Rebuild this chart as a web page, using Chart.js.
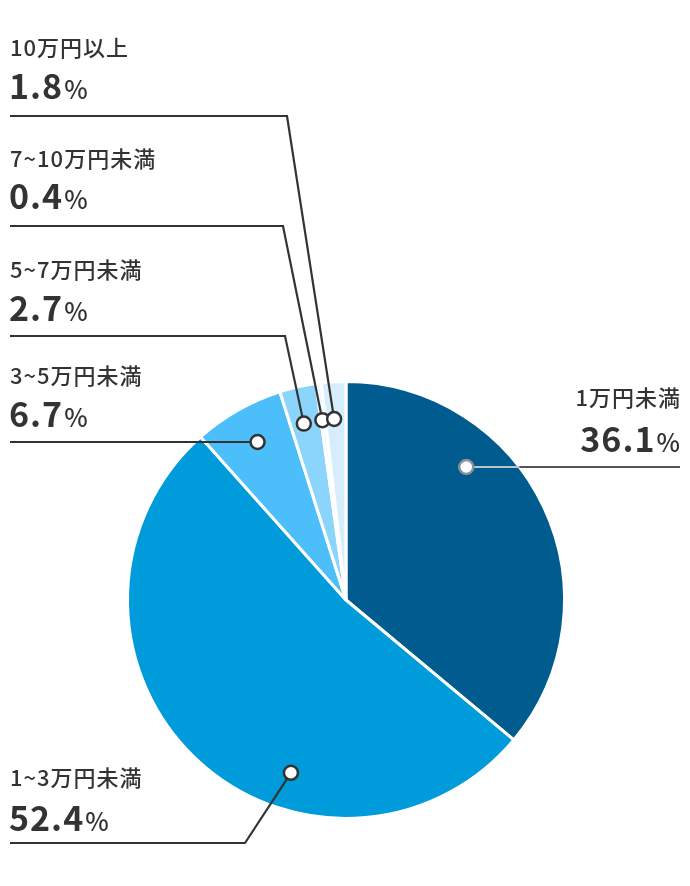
<!DOCTYPE html>
<html lang="ja">
<head>
  <meta charset="UTF-8" />
  <title>Pie</title>
  <script src="https://cdn.jsdelivr.net/npm/chart.js"></script>
  <style>
    body { margin: 0; background: #fff; }
    #wrap { width: 690px; height: 886px; position: relative; }
  </style>
</head>
<body>
  <div id="wrap"><canvas id="pie" width="690" height="886"></canvas></div>

  <script>
    const categories = ['1万円未満', '1~3万円未満', '3~5万円未満', '5~7万円未満', '7~10万円未満', '10万円以上'];
    const shares = [36.1, 52.4, 6.7, 2.7, 0.4, 1.8];
    const sliceColors = ['#005b8e', '#009bdb', '#4cbffa', '#8bd5fd', '#eef8ff', '#d6edfc'];

    // where each label sits (layout only)
    const labelLayout = [
      { side: 'right', catY: 406, valY: 452, lineY: 467, bendX: null, dotAt: 0.32 },
      { side: 'left', catY: 786, valY: 831, lineY: 843, bendX: 245, dotAt: 0.36 },
      { side: 'left', catY: 384, valY: 427, lineY: 442, bendX: null, dotAt: 0.52 },
      { side: 'left', catY: 278, valY: 321, lineY: 336, bendX: 285, dotAt: 0.43 },
      { side: 'left', catY: 167, valY: 209, lineY: 226, bendX: 283, dotAt: 0.3 },
      { side: 'left', catY: 56, valY: 99, lineY: 116, bendX: 287, dotAt: 0.42 }
    ];

    const CAT_FONT = '500 22px "Noto Sans CJK JP"';
    const VAL_FONT = '700 34px "Noto Sans CJK JP"';
    const PCT_FONT = '500 25px "Noto Sans CJK JP"';

    const leaderLabels = {
      id: 'leaderLabels',
      afterDraw(chart) {
        const ctx = chart.ctx;
        const arcs = chart.getDatasetMeta(0).data;
        ctx.save();
        arcs.forEach((arc, i) => {
          const lay = labelLayout[i];
          const ang = arc.startAngle + (arc.endAngle - arc.startAngle) * lay.dotAt;
          const r = arc.outerRadius * 0.83;
          const dx = arc.x + Math.cos(ang) * r;
          const dy = arc.y + Math.sin(ang) * r;

          ctx.lineWidth = 2.2;
          ctx.lineCap = 'butt';
          if (lay.side === 'right') {
            const edgeX = arc.x + Math.sqrt(Math.max(arc.outerRadius ** 2 - (lay.lineY - arc.y) ** 2, 0));
            ctx.strokeStyle = '#b9c3c9';
            ctx.beginPath();
            ctx.moveTo(dx, lay.lineY);
            ctx.lineTo(edgeX, lay.lineY);
            ctx.stroke();
            ctx.strokeStyle = '#555';
            ctx.beginPath();
            ctx.moveTo(edgeX, lay.lineY);
            ctx.lineTo(680, lay.lineY);
            ctx.stroke();
          } else {
            ctx.strokeStyle = '#333';
            ctx.beginPath();
            ctx.moveTo(10, lay.lineY);
            if (lay.bendX !== null) {
              ctx.lineTo(lay.bendX, lay.lineY);
              ctx.lineTo(dx, dy);
            } else {
              ctx.lineTo(dx, lay.lineY);
            }
            ctx.stroke();
          }

          // dot
          ctx.beginPath();
          ctx.arc(dx, lay.side === 'right' || lay.bendX === null ? lay.lineY : dy, 7, 0, Math.PI * 2);
          ctx.fillStyle = '#fff';
          ctx.fill();
          ctx.lineWidth = 2.5;
          ctx.strokeStyle = lay.side === 'right' ? '#8a9299' : '#333';
          ctx.stroke();

          // texts
          ctx.fillStyle = '#333';
          ctx.textBaseline = 'alphabetic';
          const valTxt = shares[i].toFixed(1);
          ctx.letterSpacing = '1px';
          ctx.font = VAL_FONT;
          const valW = ctx.measureText(valTxt).width;
          ctx.letterSpacing = '0px';
          ctx.font = PCT_FONT;
          const pctW = ctx.measureText('%').width;

          if (lay.side === 'right') {
            ctx.textAlign = 'right';
            ctx.letterSpacing = '1px';
            ctx.font = CAT_FONT;
            ctx.fillText(categories[i], 681, lay.catY);
            ctx.letterSpacing = '0px';
            ctx.font = PCT_FONT;
            ctx.fillText('%', 680, lay.valY);
            ctx.letterSpacing = '1px';
            ctx.font = VAL_FONT;
            ctx.fillText(valTxt, 680 - pctW - 1, lay.valY);
          } else {
            ctx.textAlign = 'left';
            ctx.letterSpacing = '1px';
            ctx.font = CAT_FONT;
            ctx.fillText(categories[i], 10, lay.catY);
            ctx.font = VAL_FONT;
            ctx.fillText(valTxt, 9, lay.valY);
            ctx.letterSpacing = '0px';
            ctx.font = PCT_FONT;
            ctx.fillText('%', 9 + valW + 1, lay.valY);
          }
        });
        ctx.restore();
      }
    };

    new Chart(document.getElementById('pie').getContext('2d'), {
      type: 'pie',
      data: {
        labels: categories,
        datasets: [{
          data: shares,
          backgroundColor: sliceColors,
          borderColor: '#fff',
          borderWidth: 3
        }]
      },
      options: {
        responsive: false,
        animation: false,
        events: [],
        layout: { padding: { left: 126, right: 124, top: 380, bottom: 66 } },
        plugins: {
          legend: { display: false },
          tooltip: { enabled: false }
        }
      },
      plugins: [leaderLabels]
    });
  </script>
</body>
</html>
